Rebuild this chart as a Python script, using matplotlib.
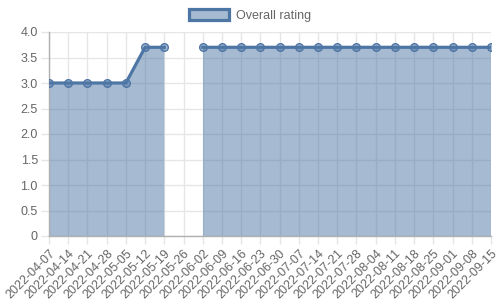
import numpy as np
import matplotlib
matplotlib.use("Agg")
import matplotlib.pyplot as plt
from matplotlib.patches import Patch

dates = ["2022-04-07", "2022-04-14", "2022-04-21", "2022-04-28", "2022-05-05",
         "2022-05-12", "2022-05-19", "2022-05-26", "2022-06-02", "2022-06-09",
         "2022-06-16", "2022-06-23", "2022-06-30", "2022-07-07", "2022-07-14",
         "2022-07-21", "2022-07-28", "2022-08-04", "2022-08-11", "2022-08-18",
         "2022-08-25", "2022-09-01", "2022-09-08", "2022-09-15"]
rating = [3.0, 3.0, 3.0, 3.0, 3.0, 3.7, 3.7, np.nan, 3.7, 3.7, 3.7, 3.7, 3.7,
          3.7, 3.7, 3.7, 3.7, 3.7, 3.7, 3.7, 3.7, 3.7, 3.7, 3.7]
yticks = [0, 0.5, 1.0, 1.5, 2.0, 2.5, 3.0, 3.5, 4.0]
ytick_labels = ["0", "0.5", "1.0", "1.5", "2.0", "2.5", "3.0", "3.5", "4.0"]

plt.rcParams['font.family'] = ['Liberation Sans', 'DejaVu Sans']
line_c = "#4e76a5"
fill_c = (78/255, 118/255, 165/255, 0.5)
txt_c = "#666666"
grid_c = "#e6e6e6"

fig = plt.figure(figsize=(5, 3), dpi=100)
ax = fig.add_axes([49/500, 1 - 236/300, (491-49)/500, (236-32)/300])

x = np.arange(len(dates))
y = np.array(rating, dtype=float)
valid = ~np.isnan(y)
ax.fill_between(x, 0, np.nan_to_num(y), where=valid, color=fill_c, linewidth=0, interpolate=False, zorder=2)
ax.plot(x, y, color=line_c, linewidth=2.3, zorder=3)
ax.plot(x, y, linestyle='none', marker='o', markersize=5.5,
        markerfacecolor=fill_c, markeredgecolor=line_c, markeredgewidth=1.0, zorder=4)

ax.set_xlim(0, len(dates) - 1)
ax.set_ylim(0, 4.0)
ax.set_xticks(x)
ax.set_xticklabels(dates, rotation=45, ha='right', rotation_mode='anchor')
ax.set_yticks(yticks)
ax.set_yticklabels(ytick_labels)
ax.tick_params(axis='both', colors=grid_c, labelcolor=txt_c, labelsize=9, length=6, width=1, pad=2)
ax.grid(True, color=grid_c, linewidth=1, zorder=0)
ax.set_axisbelow(True)
for s in ['top', 'right']:
    ax.spines[s].set_visible(False)
for s in ['left', 'bottom']:
    ax.spines[s].set_color("#b0b0b0")
    ax.spines[s].set_linewidth(1)

handle = Patch(facecolor=fill_c, edgecolor=line_c, linewidth=2.3, label="Overall rating")
fig.legend(handles=[handle], loc='upper center', bbox_to_anchor=(0.5, 1.0), frameon=False,
           fontsize=9, labelcolor=txt_c, handlelength=3.2, handleheight=1.0, handletextpad=0.5,
           borderaxespad=0.3)

fig.savefig("out.png", dpi=100)
